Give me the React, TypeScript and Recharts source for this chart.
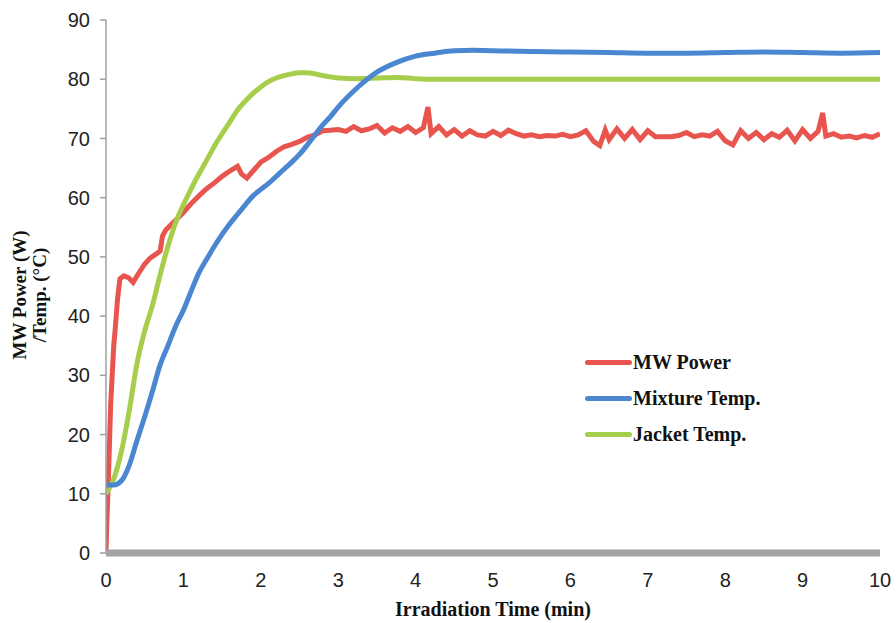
import React from 'react';
import { LineChart, Line, XAxis, YAxis } from 'recharts';

// time axis (min) for the two temperature traces
const tempTime = [
  0, 0.1, 0.2, 0.3, 0.4, 0.5, 0.6, 0.7, 0.8, 0.9, 1.0, 1.1, 1.2, 1.3, 1.4, 1.5, 1.6, 1.7, 1.8, 1.9,
  2.0, 2.1, 2.2, 2.3, 2.4, 2.5, 2.6, 2.7, 2.8, 2.9, 3.0, 3.25, 3.5, 3.75, 4.0, 4.25, 4.5, 4.75,
  5.0, 5.5, 6.0, 6.5, 7.0, 7.5, 8.0, 8.5, 9.0, 9.5, 10.0,
];

const mixtureTemp = [
  11.5, 11.5, 12.2, 14.8, 19, 23, 27.3, 31.8, 35, 38.3, 41, 44.2, 47.3, 49.6, 51.8, 53.8, 55.6, 57.2, 58.8, 60.3,
  61.4, 62.4, 63.6, 64.8, 66, 67.3, 68.9, 70.6, 72.3, 73.7, 75.3, 78.6, 81.2, 82.8, 83.9, 84.4, 84.8, 84.9,
  84.8, 84.7, 84.6, 84.5, 84.4, 84.4, 84.5, 84.6, 84.5, 84.4, 84.5,
];

const jacketTemp = [
  10, 12.5, 17.2, 24, 32, 37.5, 41.8, 47, 51.8, 55.8, 58.8, 61.5, 64, 66.3, 68.7, 70.8, 72.8, 74.8, 76.3, 77.6,
  78.7, 79.6, 80.2, 80.6, 80.9, 81.1, 81.1, 80.9, 80.6, 80.4, 80.2, 80.1, 80.2, 80.3, 80.1, 80, 80, 80,
  80, 80, 80, 80, 80, 80, 80, 80, 80, 80, 80,
];

// MW power trace (W) has its own, denser sampling
const powerTime = [
  0, 0.01, 0.03, 0.06, 0.08, 0.1, 0.12, 0.15, 0.18, 0.23, 0.29, 0.35, 0.42, 0.5, 0.57, 0.65, 0.7, 0.73, 0.77, 0.83,
  0.9, 1.0, 1.1, 1.2, 1.3, 1.4, 1.5, 1.6, 1.7, 1.75, 1.82, 1.9, 2.0, 2.1, 2.2, 2.3, 2.4, 2.5, 2.6, 2.7,
  2.8, 2.9, 3.0, 3.1, 3.2, 3.3, 3.4, 3.5, 3.6, 3.7, 3.8, 3.9, 4.0, 4.1, 4.16, 4.2, 4.3, 4.4, 4.5, 4.6,
  4.7, 4.8, 4.9, 5.0, 5.1, 5.2, 5.3, 5.4, 5.5, 5.6, 5.7, 5.8, 5.9, 6.0, 6.1, 6.2, 6.3, 6.38, 6.45, 6.5,
  6.6, 6.7, 6.8, 6.9, 7.0, 7.1, 7.2, 7.3, 7.4, 7.5, 7.6, 7.7, 7.8, 7.9, 8.0, 8.1, 8.2, 8.3, 8.4, 8.5,
  8.6, 8.7, 8.8, 8.9, 9.0, 9.1, 9.2, 9.26, 9.3, 9.4, 9.5, 9.6, 9.7, 9.8, 9.9, 10.0,
];

const mwPower = [
  0, 5, 12, 25, 30, 35, 38, 43, 46.3, 46.8, 46.5, 45.7, 47.2, 48.8, 49.8, 50.5, 51, 53.5, 54.5, 55.3,
  56.2, 57.5, 59, 60.3, 61.5, 62.5, 63.6, 64.5, 65.3, 64, 63.3, 64.5, 66, 66.8, 67.8, 68.6, 69, 69.5, 70.2, 70.6,
  71.3, 71.4, 71.5, 71.2, 72, 71.3, 71.6, 72.2, 70.9, 71.8, 71.2, 72, 71, 71.8, 75.3, 70.8, 72, 70.6, 71.5, 70.4,
  71.3, 70.6, 70.4, 71.2, 70.5, 71.4, 70.8, 70.4, 70.6, 70.3, 70.5, 70.4, 70.7, 70.3, 70.6, 71.3, 69.5, 68.8, 71.4, 69.8,
  71.6, 70, 71.5, 69.8, 71.3, 70.3, 70.3, 70.3, 70.5, 71, 70.3, 70.6, 70.4, 71.2, 69.6, 68.9, 71.3, 70, 71, 69.8,
  70.8, 70.2, 71.4, 69.6, 71.5, 70, 71.2, 74.3, 70.4, 70.8, 70.2, 70.4, 70.1, 70.5, 70.2, 70.8,
];

const xTicks = [0, 1, 2, 3, 4, 5, 6, 7, 8, 9, 10];
const yTicks = [0, 10, 20, 30, 40, 50, 60, 70, 80, 90];

const series = [
  { name: 'MW Power', color: '#E8554F' },
  { name: 'Mixture Temp.', color: '#4A87D0' },
  { name: 'Jacket Temp.', color: '#A6CE4C' },
];

const serif = '"Liberation Serif", "Times New Roman", serif';
const sans = '"Liberation Sans", Arial, sans-serif';

const powerData = powerTime.map((t, i) => ({ t, v: mwPower[i] }));
const mixtureData = tempTime.map((t, i) => ({ t, v: mixtureTemp[i] }));
const jacketData = tempTime.map((t, i) => ({ t, v: jacketTemp[i] }));

const YTitle = () => (
  <text transform="translate(30, 295) rotate(-90)" textAnchor="middle" fontFamily={serif} fontWeight="bold" fontSize={19} fill="#111">
    <tspan x={0} dy={-4}>MW Power (W)</tspan>
    <tspan x={0} dy={20}>/Temp. (°C)</tspan>
  </text>
);

const XTitle = () => (
  <text x={493} y={616} textAnchor="middle" fontFamily={serif} fontWeight="bold" fontSize={20} fill="#111">
    Irradiation Time (min)
  </text>
);

// legend drawn as a plain overlay so it doesn't eat into the plot area
const LegendBox = () => (
  <div style={{ position: 'absolute', left: 585, top: 344, fontFamily: serif, fontWeight: 'bold', fontSize: 20, color: '#111' }}>
    {series.map(s => (
      <div key={s.name} style={{ display: 'flex', alignItems: 'center', height: 36 }}>
        <div style={{ width: 47, height: 5, borderRadius: 3, background: s.color }} />
        <span style={{ marginLeft: 1 }}>{s.name}</span>
      </div>
    ))}
  </div>
);

export default function App() {
  return (
    <div style={{ position: 'absolute', left: 0, top: 0, width: 896, height: 623, background: '#fff' }}>
      <LineChart width={896} height={623} margin={{ top: 20, right: 16, bottom: 40, left: 46 }}>
        <XAxis
          type="number"
          dataKey="t"
          domain={[0, 10]}
          ticks={xTicks}
          allowDataOverflow
          height={30}
          tickSize={0}
          tickMargin={20}
          axisLine={{ stroke: '#a3a3a3', strokeWidth: 7 }}
          tickLine={false}
          tick={{ fill: '#222', fontSize: 20, fontFamily: sans }}
          label={<XTitle />}
        />
        <YAxis
          type="number"
          domain={[0, 90]}
          ticks={yTicks}
          width={60}
          tickSize={6}
          tickMargin={10}
          axisLine={{ stroke: '#a0a0a0', strokeWidth: 1.5 }}
          tickLine={{ stroke: '#a0a0a0', strokeWidth: 1.5 }}
          tick={{ fill: '#222', fontSize: 20, fontFamily: sans }}
          label={<YTitle />}
        />
        <Line data={powerData} dataKey="v" name="MW Power" stroke={series[0].color} strokeWidth={5} dot={false} isAnimationActive={false} />
        <Line data={jacketData} dataKey="v" name="Jacket Temp." type="monotone" stroke={series[2].color} strokeWidth={5} dot={false} isAnimationActive={false} />
        <Line data={mixtureData} dataKey="v" name="Mixture Temp." type="monotone" stroke={series[1].color} strokeWidth={5} dot={false} isAnimationActive={false} />
      </LineChart>
      <LegendBox />
    </div>
  );
}
